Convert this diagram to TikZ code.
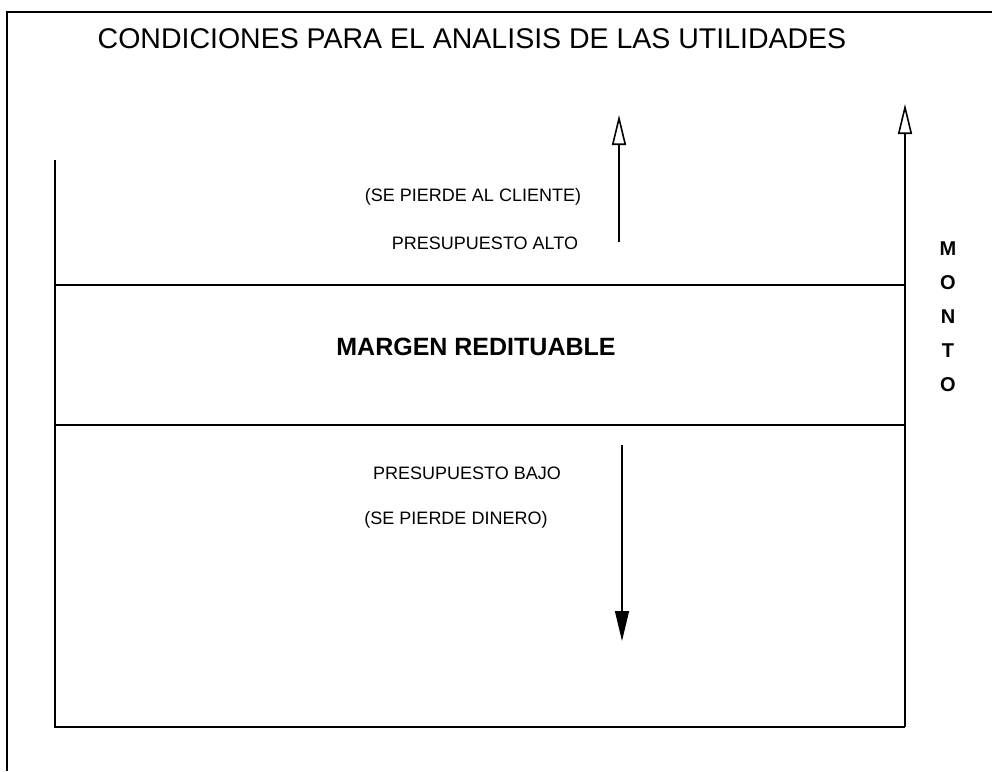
\documentclass[tikz,border=0pt]{standalone}
\usepackage{fontspec}
\setmainfont{Liberation Sans}
\usetikzlibrary{positioning,arrows.meta}
\tikzset{
  frame/.style={line width=1.2pt},
  rule/.style={line width=1.7pt},
  txt/.style={inner sep=0pt, font=\fontsize{18}{18}\selectfont},
  upArrow/.style={line width=1.4pt, -{Triangle[open,length=30pt,width=14pt,line width=1.6pt]}},
  downArrow/.style={line width=1.4pt, -{Triangle[length=30pt,width=14pt]}}
}
\begin{document}
\begin{tikzpicture}[x=1pt,y=-1pt]
  \useasboundingbox (0,0) rectangle (992,771);
  % page frame
  \draw[frame] (7,771) -- (7,12) -- (992,12);
  \node (title) [inner sep=0pt,font=\fontsize{28.5}{30}\selectfont] at (472,39) {CONDICIONES PARA EL ANALISIS DE LAS UTILIDADES};
  % bands
  \draw[rule] (55,160) -- (55,727) -- (905,727);
  \draw[rule] (55,285) -- (905,285);
  \draw[rule] (55,425) -- (905,425);
  % amount axis
  \coordinate (axisBot) at (905,727);
  \coordinate (axisTop) at (905,104);
  \draw[upArrow] (axisBot) -- (axisTop);
  \node (monto) [inner sep=0pt,align=center,font=\bfseries\fontsize{20}{34}\selectfont] at (948,317) {M\\O\\N\\T\\O};
  % upper band
  \node (cliente) [txt] at (473,197) {(SE PIERDE AL CLIENTE)};
  \node (alto) [txt] at (485,243) {PRESUPUESTO ALTO};
  \coordinate (upFrom) at (619,242);
  \coordinate (upTo) at (619,115);
  \draw[upArrow] (upFrom) -- (upTo);
  % middle band
  \node (margen) [inner sep=0pt,font=\bfseries\fontsize{25}{25}\selectfont] at (476,347) {MARGEN REDITUABLE};
  % lower band
  \node (bajo) [txt] at (467,473) {PRESUPUESTO BAJO};
  \node (dinero) [txt] at (456,520) {(SE PIERDE DINERO)};
  \coordinate (dnFrom) at (622,445);
  \coordinate (dnTo) at (622,641);
  \draw[downArrow] (dnFrom) -- (dnTo);
\end{tikzpicture}
\end{document}
